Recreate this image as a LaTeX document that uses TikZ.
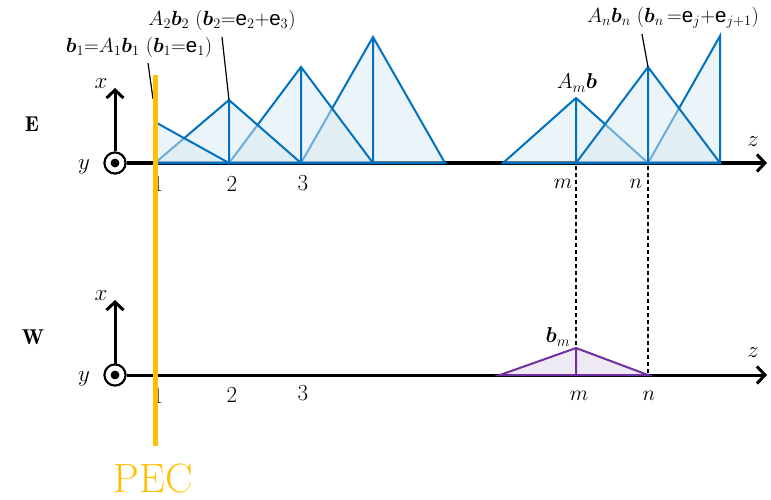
\documentclass[tikz,border=0pt]{standalone}
\usepackage{fix-cm}
\usepackage{bm}
\usepackage{fontspec}
\newfontfamily\arialf{Liberation Sans}
\usetikzlibrary{arrows.meta}
\definecolor{blueline}{RGB}{0,112,192}
\definecolor{bfill}{RGB}{215,233,241}
\definecolor{pline}{RGB}{112,48,160}
\definecolor{pfill}{RGB}{238,234,244}
\definecolor{pec}{RGB}{255,192,0}
\newcommand{\ev}{\mbox{\arialf e}}
\begin{document}
\begin{tikzpicture}[x=1pt,y=-1pt,
  lbl/.style={font=\fontsize{20.5}{24}\selectfont, inner sep=0pt},
  big/.style={font=\fontsize{23}{27}\selectfont, inner sep=0pt},
  mid/.style={font=\fontsize{21.5}{25}\selectfont, inner sep=0pt},
  axisline/.style={line width=3pt, -{Straight Barb[length=8pt,width=17pt,line width=3pt]}},
  tri/.style={draw=blueline, line width=2pt, fill=bfill, fill opacity=0.5},
  ptri/.style={draw=pline, line width=2pt, fill=pfill},
  leader/.style={line width=1.2pt},
  dashline/.style={line width=1.1pt, dash pattern=on 4pt off 3pt},
  origin/.style={circle, draw, line width=2pt, fill=white, minimum size=21pt, inner sep=0pt},
  pecline/.style={draw=pec, line width=5pt},
]
\useasboundingbox (0,0) rectangle (771,500);

% ---------- E panel ----------
\coordinate (z1) at (767,163);
\coordinate (x1) at (115,88);
\node[origin] (o1) at (115,163) {};
\draw[axisline] (o1.east) -- (z1);
\draw[axisline] (o1.north) -- (x1);
\node[origin] (o1b) at (115,163) {};
\fill (o1b.center) circle (4.4pt);

% left group (drawn back to front)
\draw[tri] (301,163) -- (373,37) -- (445,163) -- cycle (373,37) -- (373,163);
\draw[tri] (229,163) -- (301,67) -- (373,163) -- cycle (301,67) -- (301,163);
\draw[tri] (155,163) -- (229,100) -- (301,163) -- cycle (229,100) -- (229,163);
\draw[tri] (155,163) -- (155,122) -- (229,163) -- cycle;
% right group
\draw[tri] (503,163) -- (576,98) -- (648,163) -- cycle (576,98) -- (576,163);
\draw[tri] (648,163) -- (720,36) -- (720,163) -- cycle;
\draw[tri] (576,163) -- (648,67) -- (720,163) -- cycle (648,67) -- (648,163);

\node[big] (lx1) at (101,84) {$x$};
\node[big] (ly1) at (84,167) {$y$};
\node[big] (lz1) at (753,142) {$z$};
\node[mid] (lE) at (32,124) {$\mathbf{E}$};
\node[big] (n11) at (158,184) {1};
\node[big] (n12) at (232,184) {2};
\node[big] (n13) at (303,183) {3};
\node[mid] (nm1) at (563,184) {$m$};
\node[mid] (nn1) at (636,184) {$n$};

% labels
\node[lbl] (L1) at (139,47) {$\bm{b}_1{=}A_1\bm{b}_1$ ($\bm{b}_1{=}$\ev$_1$)};
\node[lbl] (L2) at (222,20) {$A_2\bm{b}_2$ ($\bm{b}_2{=}$\ev$_2{+}$\ev$_3$)};
\node[lbl] (Ln) at (673,18) {$A_n\bm{b}_n$ ($\bm{b}_n\,{=}$\ev$_j{+}$\ev$_{j+1}$)};
\node[mid] (Lm) at (577,83) {$A_m\bm{b}$};
\coordinate (l1a) at (148,63); \coordinate (l1b) at (153,99);
\coordinate (l2a) at (222,37); \coordinate (p2) at (229,100);
\coordinate (lna) at (642,34); \coordinate (pn) at (648,67);
\draw[leader] (l1a) -- (l1b);
\draw[leader] (l2a) -- (p2);
\draw[leader] (lna) -- (pn);

% ---------- W panel ----------
\coordinate (z2) at (767,375);
\coordinate (x2) at (115,300);
\node[origin] (o2) at (115,375) {};
\draw[axisline] (o2.east) -- (z2);
\draw[axisline] (o2.north) -- (x2);
\node[origin] (o2b) at (115,375) {};
\fill (o2b.center) circle (4.4pt);

\draw[ptri] (500,375) -- (576,348) -- (648,375) -- cycle (576,348) -- (576,375);

\node[big] (lx2) at (101,296) {$x$};
\node[big] (ly2) at (84,379) {$y$};
\node[big] (lz2) at (753,353) {$z$};
\node[mid] (lW) at (33,337) {$\mathbf{W}$};
\node[big] (n21) at (158,396) {1};
\node[big] (n22) at (232,395) {2};
\node[big] (n23) at (303,393) {3};
\node[mid] (nm2) at (579,396) {$m$};
\node[mid] (nn2) at (649,396) {$n$};
\node[mid] (Lbm) at (558,337) {$\bm{b}_m$};

% dashed guides
\coordinate (dm1) at (576,166); \coordinate (dm2) at (576,348);
\coordinate (dn1) at (648,166); \coordinate (dn2) at (648,375);
\draw[dashline] (dm1) -- (dm2);
\draw[dashline] (dn1) -- (dn2);

% PEC
\coordinate (pt) at (155,75); \coordinate (pb) at (155,446);
\draw[pecline] (pt) -- (pb);
\node[text=pec, font=\fontsize{41}{45}\selectfont, inner sep=0pt] (PEC) at (153,478) {PEC};
\end{tikzpicture}
\end{document}
